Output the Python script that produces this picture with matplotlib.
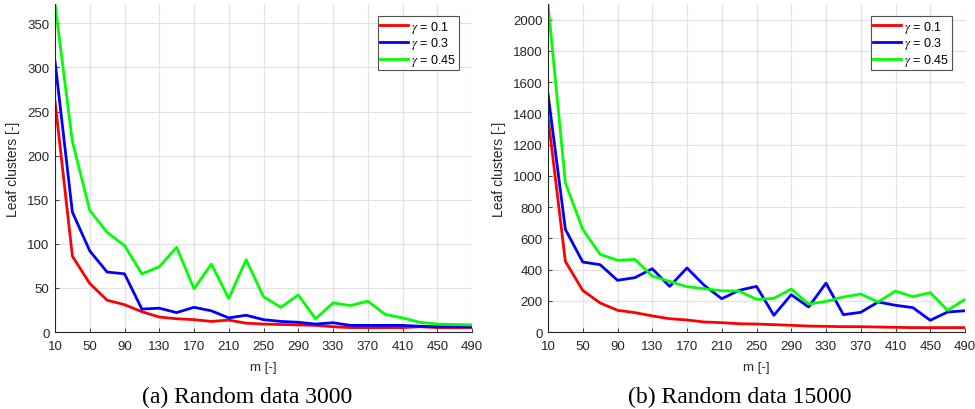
import numpy as np
import matplotlib.pyplot as plt

# m values (step 20)
m = np.arange(10, 491, 20)

# Random data 3000
a_g01 = [262, 86, 55, 36, 31, 23, 17, 15, 14, 12, 13.5, 10, 9, 8.5, 8, 7.5, 6, 5, 5, 5, 5, 6, 5, 5, 5]
a_g03 = [307, 136, 92, 68, 66, 26, 27, 22, 28, 24, 16, 19, 14, 12, 11, 9, 10.5, 7.5, 7.5, 7.5, 7.5, 6.5, 6, 6, 6]
a_g045 = [372, 216, 138, 113, 98, 66, 74, 96, 49, 77, 38, 82, 40, 28, 42, 15, 33, 30, 35, 20, 16, 11, 9, 8.5, 8]

# Random data 15000
b_g01 = [1376, 452, 266, 186, 139, 124, 103, 85, 77, 64, 60, 53, 51, 47, 43, 38, 36, 34, 34, 32, 30, 28, 28, 28, 28]
b_g03 = [1525, 657, 448, 431, 331, 348, 405, 292, 410, 298, 213, 267, 292, 107, 239, 160, 313, 111, 126, 192, 171, 156, 75, 128, 136]
b_g045 = [2100, 955, 657, 497, 459, 465, 358, 324, 290, 277, 264, 262, 209, 215, 275, 179, 196, 224, 243, 192, 262, 226, 252, 139, 209]

labels = [r'$\gamma$ = 0.1', r'$\gamma$ = 0.3', r'$\gamma$ = 0.45']
colors = ['#ff0000', '#0000ff', '#00ff00']
captions = ['(a) Random data 3000', '(b) Random data 15000']
caption_x = [247 / 975, 740 / 975]

plt.rcParams['font.family'] = 'Liberation Sans'
plt.rcParams['mathtext.fontset'] = 'stix'

fig = plt.figure(figsize=(9.75, 4.1), dpi=100)
ax1 = fig.add_axes([55/975, 1 - 333/410, 417/975, 328/410])
ax2 = fig.add_axes([548/975, 1 - 333/410, 417/975, 328/410])

panels = [(ax1, [a_g01, a_g03, a_g045], np.arange(0, 351, 50), 372),
          (ax2, [b_g01, b_g03, b_g045], np.arange(0, 2001, 200), 2100)]

for i, (ax, series, yt, ymax) in enumerate(panels):
    for s, c, l in zip(series, colors, labels):
        ax.plot(m, s, color=c, lw=2, label=l)
    ax.set_xlim(10, 490)
    ax.set_ylim(0, ymax)
    ax.set_xticks(np.arange(10, 491, 40))
    ax.set_yticks(yt)
    ax.grid(True, color='#e3e3e3', lw=0.9)
    ax.set_axisbelow(True)
    for sp in ['top', 'right']:
        ax.spines[sp].set_visible(False)
    for sp in ['left', 'bottom']:
        ax.spines[sp].set_color('#262626')
        ax.spines[sp].set_linewidth(0.8)
    ax.tick_params(direction='in', length=3, width=0.6, colors='#262626',
                   labelsize=9.5)
    ax.tick_params(axis='x', pad=5.5)
    ax.tick_params(axis='y', pad=4)
    ax.set_xlabel('m [-]', fontsize=9.5, color='#262626', labelpad=6.5)
    ax.set_ylabel('Leaf clusters [-]', fontsize=10, color='#262626', labelpad=5)
    leg = ax.legend(loc='upper right', bbox_to_anchor=(0.969, 0.963), fontsize=9,
                    frameon=True, fancybox=False, handlelength=2.2,
                    handletextpad=0.3, borderpad=0.2, labelspacing=0.05,
                    borderaxespad=0)
    leg.get_frame().set_edgecolor('#262626')
    leg.get_frame().set_linewidth(0.8)
    fig.text(caption_x[i], 1 - 397/410, captions[i], ha='center', va='center',
             fontsize=17, family='Liberation Serif')

fig.savefig('out.png', dpi=100)
